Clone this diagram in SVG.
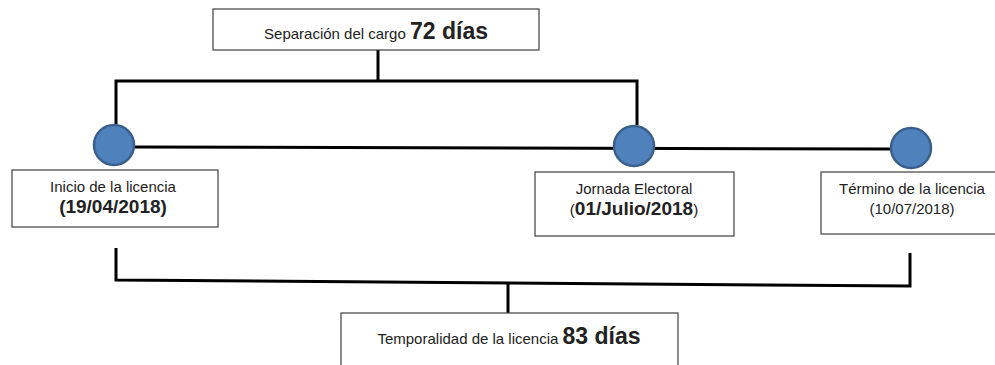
<svg xmlns="http://www.w3.org/2000/svg" width="995" height="365" viewBox="0 0 995 365">
<style>
.box{fill:#fff;stroke:#404040;stroke-width:1.2}
.ln{fill:none;stroke:#000;stroke-width:3;stroke-linejoin:miter}
.dot{fill:#4F81BD;stroke:#3A5F8C;stroke-width:2.5}
text{font-family:"Liberation Sans",Arial,sans-serif;fill:#222;text-anchor:middle}
.s{font-size:15px}
.b{font-weight:bold}
</style>
<rect width="995" height="365" fill="#fff"/>
<g id="connectors">
<path class="ln" d="M378,50 V81 M116,124 V81 H637 V125"/>
<path class="ln" d="M135,147 L890,149"/>
<path class="ln" d="M116,248 V280 L910,286 V253"/>
<path class="ln" d="M508,283 V313"/>
</g>
<g id="node-separacion">
<rect class="box" x="213" y="9" width="326" height="41"/>
<text x="376" y="39"><tspan class="s">Separación del cargo </tspan><tspan class="b" font-size="23">72 días</tspan></text>
</g>
<g id="dot-inicio"><circle class="dot" cx="114" cy="145" r="20"/></g>
<g id="dot-jornada"><circle class="dot" cx="634" cy="146" r="20"/></g>
<g id="dot-termino"><circle class="dot" cx="911" cy="148" r="20"/></g>
<g id="node-inicio">
<rect class="box" x="12" y="170" width="206" height="57"/>
<text class="s" x="113" y="192">Inicio de la licencia</text>
<text class="b" font-size="19" x="113" y="213">(19/04/2018)</text>
</g>
<g id="node-jornada">
<rect class="box" x="535" y="172" width="199" height="64"/>
<text class="s" x="634" y="194">Jornada Electoral</text>
<text x="634" y="215"><tspan class="s">(</tspan><tspan class="b" font-size="19">01/Julio/2018</tspan><tspan class="s">)</tspan></text>
</g>
<g id="node-termino">
<rect class="box" x="821" y="172" width="180" height="62"/>
<text class="s" x="912" y="194">Término de la licencia</text>
<text class="s" x="912" y="214">(10/07/2018)</text>
</g>
<g id="node-temporalidad">
<rect class="box" x="341" y="313" width="337" height="60"/>
<text x="509" y="344"><tspan class="s">Temporalidad de la licencia </tspan><tspan class="b" font-size="23">83 días</tspan></text>
</g>
</svg>
